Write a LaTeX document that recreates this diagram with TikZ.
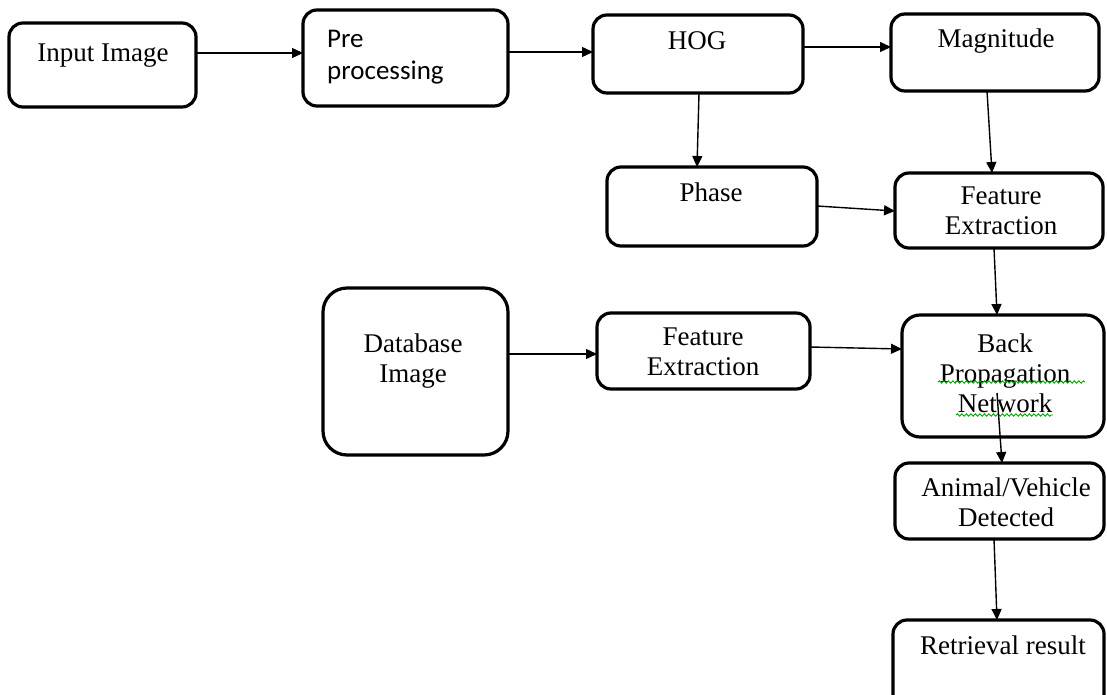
\documentclass[tikz,border=0pt]{standalone}
\usepackage{fontspec}
\setmainfont{Liberation Serif}
\newfontfamily\calfont{Carlito}
\usetikzlibrary{arrows.meta,decorations.pathmorphing}
\begin{document}
\begin{tikzpicture}[x=1pt,y=-1pt,
  box/.style={draw,line width=3.2pt,rounded corners=14pt,inner sep=0pt,outer sep=0pt},
  lbl/.style={inner sep=0pt,font=\fontsize{27}{30}\selectfont,align=center},
  flow/.style={line width=1.4pt,-{Triangle[length=11pt,width=10pt]}},
  spell/.style={draw=green!65!black,line width=0.9pt,decorate,
    decoration={snake,amplitude=1.2pt,segment length=4.5pt}}]
\useasboundingbox (0,0) rectangle (1107,695);

% boxes
\node[box,minimum width=187pt,minimum height=84pt] (inp) at (102.5,65) {};
\node[box,minimum width=205pt,minimum height=96pt] (pre) at (405.5,58) {};
\node[box,minimum width=210pt,minimum height=78pt] (hog) at (698,54) {};
\node[box,minimum width=208pt,minimum height=77pt] (mag) at (995,52.5) {};
\node[box,minimum width=210pt,minimum height=79pt] (pha) at (712,206.5) {};
\node[box,minimum width=208pt,minimum height=75pt] (fea) at (999,210.5) {};
\node[box,rounded corners=24pt,minimum width=185pt,minimum height=167pt] (db) at (415.5,371.5) {};
\node[box,minimum width=213pt,minimum height=76pt] (feb) at (703.5,351) {};
\node[box,rounded corners=18pt,minimum width=202pt,minimum height=122pt] (bp) at (1003,376) {};
\node[box,minimum width=209pt,minimum height=76pt] (ani) at (999.5,501) {};
\node[box,minimum width=211pt,minimum height=92pt] (ret) at (998.5,666) {};

% labels
\node[lbl,anchor=base] (inpT) at (103,62) {Input Image};
\node[lbl,font=\calfont\fontsize{27}{32}\selectfont,align=left,anchor=west] (preT) at (327,57) {Pre\\processing};
\node[lbl,anchor=base] (hogT) at (697,50) {HOG};
\node[lbl,anchor=base] (magT) at (996,48) {Magnitude};
\node[lbl,anchor=base] (phaT) at (711,201) {Phase};
\node[lbl] (feaT) at (1001,211) {Feature\\Extraction};
\node[lbl] (dbT) at (413,361) {Database\\Image};
\node[lbl] (febT) at (703,351.5) {Feature\\Extraction};
\node[lbl] (bpT) at (1005,373) {Back\\Propagation\\Network};
\node[lbl] (aniT) at (1006,502.5) {Animal/Vehicle\\Detected};
\node[lbl,anchor=base] (retT) at (1003,654) {Retrieval result};

% spell-check underlines
\draw[spell] (938,382) -- (1085,382);
\draw[spell] (956,415) -- (1053,415);

% connectors
\draw[flow] ([yshift=12pt]inp.east) -- ([yshift=5pt]pre.west);
\draw[flow] ([yshift=6pt]pre.east) -- ([yshift=2pt]hog.west);
\draw[flow] ([yshift=7pt]hog.east) -- ([yshift=5.5pt]mag.west);
\draw[flow] ([xshift=1pt]hog.south) -- ([xshift=-15pt]pha.north);
\draw[flow] ([xshift=-8pt]mag.south) -- ([xshift=-7pt]fea.north);
\draw[flow] ([yshift=0.5pt]pha.east) -- ([yshift=-0.5pt]fea.west);
\draw[flow] ([xshift=-5pt]fea.south) -- ([xshift=-6pt]bp.north);
\draw[flow] ([yshift=17.5pt]db.east) -- ([yshift=-3pt]feb.west);
\draw[flow] ([yshift=4pt]feb.east) -- ([yshift=27pt]bp.west);
\draw[flow] ([xshift=-6pt,yshift=-17pt]bp.center) -- ([xshift=2.5pt]ani.north);
\draw[flow] ([xshift=-5.5pt]ani.south) -- ([xshift=-1.5pt]ret.north);
\end{tikzpicture}
\end{document}
